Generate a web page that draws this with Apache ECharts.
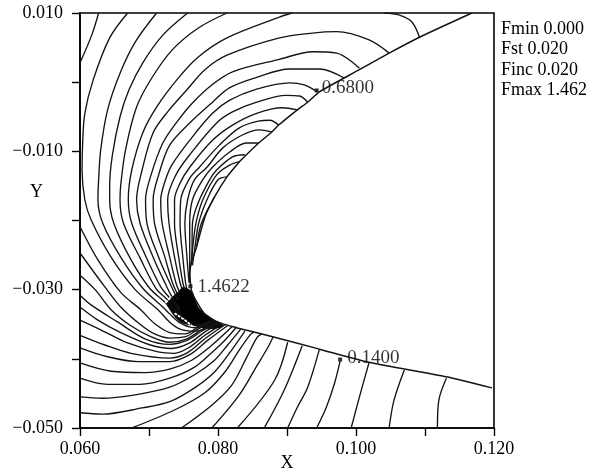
<!DOCTYPE html>
<html><head><meta charset="utf-8">
<style>html,body{margin:0;padding:0;background:#fff}#c{width:592px;height:472px}</style>
<script src="https://cdn.jsdelivr.net/npm/echarts@6/dist/echarts.min.js"></script>
</head><body><div id="c"></div>
<script>
const surface=[[116.8,10],[109.2,6.5],[104.8,4.2],[100.5,1.8],[94.7,-1.4],[93.0,-2.9],[91.5,-4.0],[88.8,-6.2],[87.8,-7.2],[85.9,-8.8],[83.9,-10.7],[83.1,-11.5],[81.3,-13.7],[79.5,-16.6],[78.1,-19.5],[76.9,-23.8],[75.9,-27.2],[76.2,-30.3],[77.9,-33.3],[80,-34.7],[82.7,-35.5],[87.5,-36.7],[94.7,-38.6],[101.9,-40.5],[113.1,-42.6],[119.7,-44.2]];
const coreBlob=[[75,-29.6],[76.3,-30.3],[76.6,-31.2],[77.3,-32.7],[78.5,-33.8],[80,-34.7],[80.8,-35.3],[78.9,-35.7],[76,-35.1],[74.2,-34.4],[73,-32.9],[72.6,-31.9],[73.3,-31.1],[74.2,-30.3]];
const streakA=[[72.4,-31.9],[72.9,-31.4],[73.2,-31.0]];
const streakB=[[73.7,-33.4],[75.2,-34.4],[76.3,-35.3]];
const lineT1=[[62.7,10],[61.7,6.8],[60,2.8]];
const lineT2=[[66.9,10],[64.3,6.4],[61.9,0.3],[60.7,-4.5],[60.4,-8.4],[60.3,-12.7],[60.7,-17.0],[61.6,-19.9],[64.5,-25.3],[68,-30.0],[71.3,-32.9],[73,-34.7],[74.5,-35.7],[76.6,-36.0],[78.8,-35.4],[79.8,-34.8]];
const lineT3=[[71.1,10],[68,5.8],[65.8,1.3],[64,-4],[63,-9.8],[62.7,-14.1],[62.6,-17],[63.3,-20.4],[65.9,-25.3],[69.1,-29.8],[72,-32.5],[73,-33.5],[74.5,-34.8],[76.6,-35.5],[79.1,-34.7]];
const lineT4=[[75.6,10],[72,6.8],[69.1,2.8],[67.1,-1.1],[65.8,-5],[64.7,-10.5],[64.3,-14.9],[64.3,-17],[64.9,-20.4],[67.4,-25.7],[70.1,-29.8],[72.4,-31.9],[73,-32.7],[74.7,-34.7],[77.1,-35.1],[78.8,-34.5]];
const lineT5=[[81.3,10],[77.1,7.8],[73.4,4.7],[70.4,0.6],[68.2,-3.6],[66.6,-9.8],[65.9,-14.9],[65.8,-17],[66.3,-20.4],[68.7,-25.4],[71,-29.8],[72.7,-31.5],[73.7,-32.9],[75.9,-34.8]];
const lineT6=[[90.7,10],[88.9,9.4],[81.3,6.4],[77.1,3.6],[74,0.3],[71.1,-3.6],[69.1,-7.3],[67.5,-12.7],[67,-17],[67.5,-20.4],[69.6,-25.3],[71.7,-29.6],[73,-31.2],[74.5,-33.2]];
const lineU1=[[104.1,10],[106.3,9.7],[108.1,8.7],[109.2,6.5]];
const lineU3=[[104.8,4.2],[101.9,6.1],[97.2,7.3],[93.7,7.1],[88.9,6.4],[81.3,3.9],[78.1,1.8],[75.5,-1.1],[72.7,-4.3],[70.6,-7.3],[69,-12.7],[68.2,-17],[68.7,-20.4],[70.6,-25.3],[72.3,-29],[73.2,-30.8],[74.5,-32.9]];
const lineU4=[[100.5,2.0],[97.2,4.2],[93.7,4.4],[88.9,3.3],[82.1,1.5],[79.1,-0.4],[76.3,-3.0],[74.0,-5.8],[72.0,-8.8],[70.3,-13.4],[69.5,-17],[69.7,-20.4],[71.4,-25.3],[73,-29],[74.2,-31.5]];
const lineA=[[98.3,0.6],[94.7,1.9],[90.4,1.9],[85.6,0.7],[81.7,-0.8],[79.2,-2.9],[75.9,-5.9],[73.0,-9.1],[71.4,-13.4],[70.6,-17],[70.8,-20.4],[72.3,-25.3],[73.4,-29],[74.2,-30.8]];
const lineB=[[94.4,-1.4],[92.5,-0.4],[90.4,-0.1],[85.6,-1.0],[81.7,-2.6],[79.2,-4.5],[75.9,-8.4],[73.3,-12],[72.3,-14.4],[71.7,-17],[71.9,-20.4],[73,-25.3],[73.9,-29],[74.5,-30.5]];
const lineC=[[93.0,-2.9],[91.8,-2.0],[89.9,-1.9],[85.6,-2.9],[82.1,-4.3],[79.8,-5.9],[75.9,-10.5],[73.9,-13.4],[72.7,-17],[72.9,-20.4],[73.7,-25.3],[74.5,-29],[74.9,-30.2]];
const lineD=[[91.5,-4.0],[89.3,-3.7],[85.6,-4.5],[82.1,-6.2],[79.2,-8.4],[75.9,-12.3],[74.5,-14.6],[73.7,-17],[73.7,-20.4],[74.3,-25.3],[74.9,-29],[75.2,-30]];
const lineE=[[88.8,-6.2],[87.5,-5.5],[86.0,-5.6],[83.1,-6.6],[80.2,-9.1],[77.3,-12.3],[75.9,-13.9],[74.6,-17],[74.5,-20.4],[74.9,-25.3],[75.3,-29],[75.5,-29.9]];
const lineF=[[87.8,-7.2],[86.0,-6.9],[83.6,-7.6],[80.7,-9.5],[78.4,-12.3],[76.6,-14.1],[75.6,-17],[75.2,-20.4],[75.5,-25.3],[75.8,-29]];
const lineG=[[85.9,-8.8],[84.1,-8.8],[81.7,-10.1],[79.2,-12.3],[77.8,-14.1],[76.3,-17],[75.9,-20.4],[75.9,-25.3],[75.9,-29]];
const lineH=[[83.9,-10.5],[82.1,-10.8],[79.8,-12.7],[78.8,-14.1],[77.1,-17.5],[76.3,-20.4],[76.2,-25.3],[75.9,-27.4]];
const lineI=[[83.1,-11.5],[81.7,-12.0],[79.8,-13.4],[77.8,-17],[76.8,-20.4],[76.3,-24.3],[76.2,-26]];
const lineJ=[[81.3,-13.7],[80.0,-14.1],[78.4,-17],[77.2,-20.4],[76.6,-24.3],[76.3,-26.5]];
const lineM=[[79.5,-16.6],[77.6,-20.4],[76.9,-23.8]];
const lineR1=[[111.8,-50],[112,-46],[113.1,-42.8]];
const lineR2=[[104.8,-50],[105.5,-46],[107,-41.6]];
const lineR3=[[99.3,-50],[100.5,-45.5],[101.9,-40.5]];
const lineR4=[[94.3,-50],[95.7,-47],[96.9,-43.5],[97.7,-40.3]];
const lineR5=[[90.1,-50],[91.5,-47],[93,-44.1],[94.7,-38.6]];
const lineR6=[[86.7,-50],[89.6,-44.5],[92.2,-38.1]];
const lineR7=[[82.8,-50],[88.2,-43.1],[90.1,-37.6]];
const lineR8=[[79.1,-50],[83.1,-45.2],[85.7,-40.9],[87.2,-38.4],[88,-36.8]];
const lineR9=[[74.7,-50],[79.1,-46.7],[82,-43.8],[84.1,-39.9],[85.6,-37],[86.3,-36.4]];
const lineR10=[[67.5,-50],[73.7,-47.4],[78.1,-44.9],[81,-41.9],[83.1,-38.7],[84.6,-36.6],[85.2,-36.1]];
const lineR11=[[60,-47.8],[63.2,-48],[69,-47.1],[73,-46.2],[76.6,-44.2],[79.5,-41.9],[82,-38.7],[83.9,-36]];
const lineR12=[[60,-45.5],[63.2,-45.7],[68,-45.2],[73,-44.1],[76.6,-42.3],[79.5,-40.2],[81.4,-38],[83.3,-35.7]];
const lineR13=[[60,-42.8],[64,-43.7],[68.7,-43.7],[73,-42.8],[76.6,-41.2],[79.2,-39],[81,-37.3],[82.7,-35.4]];
const lineR14=[[60,-40.6],[64.5,-41.8],[69.4,-42],[73,-41.5],[76.2,-40.2],[78.8,-38.3],[82.1,-35.3]];
const lineR15=[[60,-38.4],[64,-39.7],[68.4,-40.4],[73,-40.4],[75.9,-39.4],[78.4,-37.4],[81.5,-35.1]];
const lineR16=[[60,-36.6],[63.6,-38],[67.4,-39.2],[73,-39.9],[75.6,-39.1],[78.1,-37.1],[81.1,-35]];
const lineRa=[[60,-34.4],[63,-35.8],[66.9,-37.7],[71.3,-39],[73.7,-39.2],[75.9,-38.3],[78.1,-36.6],[80.7,-34.9]];
const lineR17=[[60,-32.5],[62.6,-34.4],[65.9,-36.2],[70.2,-38],[73.3,-38.5],[75.9,-37.7],[78.1,-36.1],[80.4,-34.8]];
const lineRb=[[60,-30.8],[61.6,-32.2],[65.5,-34.7],[69.4,-37.1],[73,-37.9],[75.6,-37.3],[77.8,-35.9],[80.1,-34.7]];
const lineR18=[[60,-27.9],[62.2,-30],[64.5,-32.9],[67.2,-35.1],[70.1,-36.7],[73,-37.6],[75.5,-37.1],[77.6,-35.8],[80,-34.6]];
const lineR19=[[60,-24.7],[63.6,-29.6],[65.9,-32.5],[68.7,-35],[70.8,-36.4],[73,-37],[75.3,-36.8],[77.3,-35.6],[79.5,-34.5]];
const lineR20=[[60,-20.9],[62.6,-25.7],[65.9,-30.4],[68.8,-32.9],[70.8,-34.9],[73,-36.2],[75.2,-36.4],[77.2,-35.4],[79.4,-34.4]];
const peakPoints=[[94.3,-1.2],[76.0,-29.5],[97.7,-40.1]];
const peakLabels=['0.6800','1.4622','0.1400'];
const legendLines=['Fmin 0.000','Fst 0.020','Finc 0.020','Fmax 1.462'];

const contours=[lineT1,lineT2,lineT3,lineT4,lineT5,lineT6,lineU1,lineU3,lineU4,lineA,lineB,lineC,lineD,lineE,lineF,lineG,lineH,lineI,lineJ,lineM,
 lineR1,lineR2,lineR3,lineR4,lineR5,lineR6,lineR7,lineR8,lineR9,lineR10,lineR11,lineR12,lineR13,lineR14,lineR15,lineR16,lineRa,lineR17,lineRb,lineR18,lineR19,lineR20];
const toAxis=l=>l.map(p=>[p[0]/1000,p[1]/1000]);
const ink='#141414', face='"Liberation Serif",serif';

const series=contours.map(c=>({type:'line',data:toAxis(c),showSymbol:false,smooth:0.33,silent:true,
  lineStyle:{color:ink,width:1.35}}));
series.push({type:'line',data:toAxis(surface),showSymbol:false,smooth:0.2,silent:true,lineStyle:{color:ink,width:1.5}});
series.push({type:'custom',data:toAxis(coreBlob),silent:true,encode:{x:0,y:1},
  renderItem:(p,api)=>{
    if(p.dataIndex!==0)return null;
    const pts=toAxis(coreBlob).map(q=>api.coord(q));
    return {type:'polygon',shape:{points:pts,smooth:0.3},style:{fill:'#000'}};
  }});
[streakA,streakB].forEach(s=>series.push({type:'line',data:toAxis(s),showSymbol:false,silent:true,
  lineStyle:{color:'#fff',width:1.8,type:[3,1]}}));
series.push({type:'scatter',symbol:'rect',symbolSize:4,silent:true,itemStyle:{color:'#000'},
  data:toAxis(peakPoints).map((p,i)=>({value:p,label:{show:true,position:'right',distance:i==1?5:(i==2?5:3),
    offset:[0,i==2?-2:(i==0?-2:1)],formatter:peakLabels[i],fontFamily:face,fontSize:19,color:'#000'}}))});

const xLabel=v=>{const k=Math.round(v*1000);return (k%20===0)?(k/1000).toFixed(3):'';};
const yLabel=v=>{const k=Math.round(v*1000);
  if(Math.abs(k-10)%20!==0)return '';
  return (k<0?'\u2212':'')+(Math.abs(k)/1000).toFixed(3);};

const axisBase={splitLine:{show:false},
  axisLine:{show:true,onZero:false,lineStyle:{color:'#000',width:1.6}},
  axisTick:{show:true,length:8,lineStyle:{color:'#000',width:1.4}}};
const chart=echarts.init(document.getElementById('c'),null,{renderer:'canvas'});
chart.setOption({animation:false,backgroundColor:'#fff',
  title:[{text:legendLines.join('\n'),left:496,top:14,textStyle:{fontFamily:face,fontSize:18,fontWeight:'normal',color:'#000',lineHeight:20.5}},
         {text:'Y',left:25,top:178,textStyle:{fontFamily:face,fontSize:18,fontWeight:'normal',color:'#000'}}],
  grid:{left:80,top:13,width:414,height:415,show:true,borderColor:'#000',borderWidth:1.6,backgroundColor:'transparent',outerBoundsMode:'none'},
  xAxis:Object.assign({},axisBase,{type:'value',min:0.06,max:0.12,interval:0.01,name:'X',nameLocation:'middle',nameGap:26,nameMoveOverlap:false,
    nameTextStyle:{fontFamily:face,fontSize:18,color:'#000'},
    axisLabel:{formatter:xLabel,hideOverlap:false,showMinLabel:true,showMaxLabel:true,margin:12,fontFamily:face,fontSize:18,color:'#000'}}),
  yAxis:Object.assign({},axisBase,{type:'value',min:-0.05,max:0.01,interval:0.01,
    axisLabel:{formatter:yLabel,hideOverlap:false,showMinLabel:true,showMaxLabel:true,margin:17,fontFamily:face,fontSize:18,color:'#000'}}),
  series});
</script></body></html>
